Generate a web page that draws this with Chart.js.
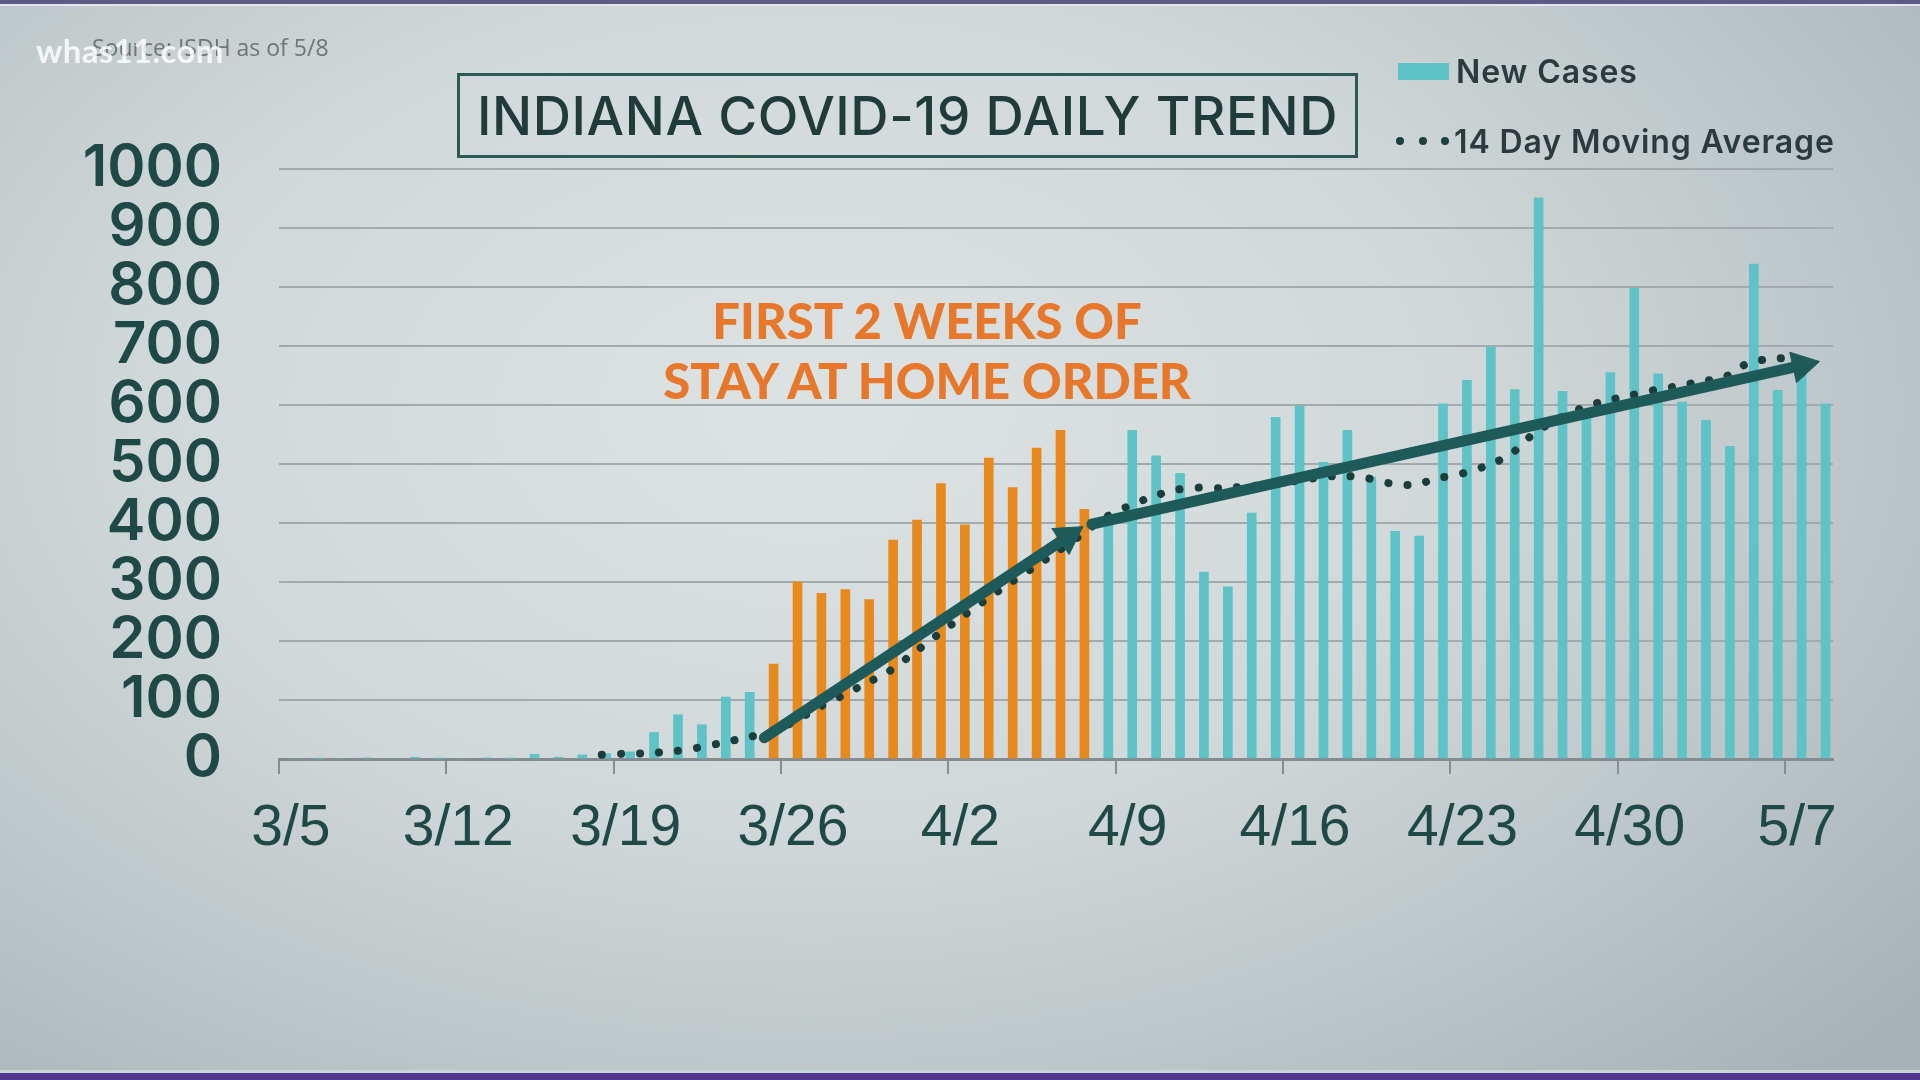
<!DOCTYPE html>
<html>
<head>
<meta charset="utf-8">
<script src="https://cdn.jsdelivr.net/npm/chart.js@4.4.1/dist/chart.umd.min.js"></script>
<style>
  html, body { margin: 0; padding: 0; width: 1920px; height: 1080px; overflow: hidden; }
  body {
    position: relative;
    background: radial-gradient(ellipse 75% 85% at 42% 38%, #dde3e3 0%, #d1d8d9 45%, #b4bec1 85%, #a9b3b7 100%);
    font-family: Inter, "Open Sans", sans-serif;
  }
  #chart { position: absolute; left: 0; top: 0; }
  .edge-top { position: absolute; left: 0; top: 0; width: 1920px; height: 4px; background: #5d5a86; border-bottom: 2px solid #e2e6ec; }
  .edge-bottom { position: absolute; left: 0; bottom: 0; width: 1920px; height: 7px; background: #51368f; border-top: 3px solid #c6d6d1; }
  .source { position: absolute; left: 92px; top: 31px; font: 400 23px "Open Sans", sans-serif; color: #6d7779; }
  .mark { position: absolute; left: 36px; top: 30px; font: 700 33px Lato, sans-serif; color: rgba(255,255,255,0.82); letter-spacing: 0.3px; }
  .title {
    position: absolute; left: 457px; top: 73px; width: 901px; height: 85px; box-sizing: border-box;
    border: 3px solid #2b5954; display: flex; align-items: center; justify-content: center;
    font: 500 53px Inter, sans-serif; color: #1f3c3a; letter-spacing: 0.6px;
  }
  .legend { position: absolute; left: 1396px; top: 50px; font: 600 32px Inter, sans-serif; color: #2b3b3d; letter-spacing: 0.9px; }
  .legend .row { position: absolute; left: 0; height: 40px; display: flex; align-items: center; white-space: nowrap; }
  .legend .swatch { display: inline-block; width: 51px; height: 17px; background: #5ec3c6; margin-right: 7px; margin-left: 2px; }
  .legend .dots { display: inline-flex; width: 53px; justify-content: space-between; margin-right: 5px; }
  .legend .dots i { display: block; width: 8px; height: 8px; border-radius: 50%; background: #1d3f3d; }
  .note { position: absolute; left: 477px; width: 900px; text-align: center; font: 900 49px Lato, sans-serif; color: #e7772a; white-space: nowrap; line-height: 59px; }
</style>
</head>
<body>
<canvas id="chart" width="1920" height="1080"></canvas>
<div class="edge-top"></div>
<div class="edge-bottom"></div>
<div class="source">Source: ISDH as of 5/8</div>
<div class="mark">whas11.com</div>
<div class="title">INDIANA COVID-19 DAILY TREND</div>
<div class="legend">
  <div class="row" style="top:1px"><span class="swatch"></span><span>New Cases</span></div>
  <div class="row" style="top:71px"><span class="dots"><i></i><i></i><i></i></span><span>14 Day Moving Average</span></div>
</div>
<div class="note" style="top:291px">FIRST 2 WEEKS OF</div>
<div class="note" style="top:351px">STAY AT HOME ORDER</div>
<script>
// days from 3/5 to 5/8
const dates = [
  "3/5", "3/6", "3/7", "3/8", "3/9", "3/10", "3/11", "3/12", "3/13", "3/14",
  "3/15", "3/16", "3/17", "3/18", "3/19", "3/20", "3/21", "3/22", "3/23", "3/24",
  "3/25", "3/26", "3/27", "3/28", "3/29", "3/30", "3/31", "4/1", "4/2", "4/3",
  "4/4", "4/5", "4/6", "4/7", "4/8", "4/9", "4/10", "4/11", "4/12", "4/13",
  "4/14", "4/15", "4/16", "4/17", "4/18", "4/19", "4/20", "4/21", "4/22", "4/23",
  "4/24", "4/25", "4/26", "4/27", "4/28", "4/29", "4/30", "5/1", "5/2", "5/3",
  "5/4", "5/5", "5/6", "5/7", "5/8"
];

const newCases = [
  0, 1, 0, 2, 0, 3, 1, 0, 2, 1,
  8, 3, 7, 9, 12, 45, 75, 58, 105, 113,
  161, 300, 281, 287, 270, 371, 405, 467, 397, 510,
  460, 527, 557, 423, 400, 557, 514, 484, 317, 292,
  417, 579, 598, 503, 557, 478, 386, 378, 602, 642,
  698, 626, 951, 623, 580, 655, 798, 653, 605, 574,
  530, 839, 625, 660, 602
];

const movingAverage = [
  null, null, null, null, null, null, null, null, null, null,
  null, null, null, 7, 9, 10, 13, 19, 27, 36,
  45, 62, 86, 106, 127, 148, 178, 209, 239, 268,
  296, 323, 350, 378, 408, 428, 444, 456, 460, 459,
  462, 466, 471, 477, 480, 476, 467, 465, 476, 484,
  497, 516, 552, 576, 595, 607, 616, 625, 632, 640,
  648, 672, 678, 681, null
];

// stay-at-home order weeks (3/25 - 4/7)
const orderStart = "3/25";
const orderEnd = "4/7";

// trend arrows, in day positions (0 = 3/5) and case counts
const trendBefore = [{ x: 19.8, y: 36 }, { x: 32.5, y: 377 }];
const trendAfter = [{ x: 33.5, y: 398 }, { x: 63.2, y: 667 }];

const cyan = "#5ec3c6";
const orange = "#e8891d";
const arrowColor = "#1f5a5a";
const dotColor = "#1b3d3b";
const tickGray = "#868e91";
const labelColor = "#1e4946";

const i0 = dates.indexOf(orderStart);
const i1 = dates.indexOf(orderEnd);
const barColors = newCases.map((v, i) => (i >= i0 && i <= i1 ? orange : cyan));

function arrowRotation(c) {
  const d = c.dataset.data;
  const xs = c.chart.scales.xl;
  const ys = c.chart.scales.y;
  const dx = xs.getPixelForValue(d[1].x) - xs.getPixelForValue(d[0].x);
  const dy = ys.getPixelForValue(d[1].y) - ys.getPixelForValue(d[0].y);
  return Math.atan2(dx, -dy) * 180 / Math.PI;
}

function arrowSet(points) {
  return {
    type: "line",
    data: points,
    xAxisID: "xl",
    borderColor: arrowColor,
    borderWidth: 11,
    borderCapStyle: "round",
    pointRadius: [0, 18],
    pointHoverRadius: [0, 18],
    pointStyle: "triangle",
    pointBackgroundColor: arrowColor,
    pointBorderColor: arrowColor,
    pointBorderWidth: 1,
    pointRotation: arrowRotation,
    order: 1
  };
}

new Chart(document.getElementById("chart"), {
  type: "bar",
  data: {
    labels: dates,
    datasets: [
      arrowSet(trendBefore),
      arrowSet(trendAfter),
      {
        type: "line",
        label: "14 Day Moving Average",
        data: movingAverage,
        borderColor: dotColor,
        borderWidth: 8,
        borderDash: [0.1, 19],
        borderCapStyle: "round",
        pointRadius: 0,
        tension: 0.3,
        order: 2
      },
      {
        label: "New Cases",
        data: newCases,
        backgroundColor: barColors,
        barThickness: 9,
        order: 3
      }
    ]
  },
  options: {
    responsive: false,
    animation: false,
    events: [],
    layout: { padding: { left: 0, right: 87, top: 169, bottom: 221 } },
    plugins: { legend: { display: false }, tooltip: { enabled: false } },
    scales: {
      x: {
        type: "category",
        offset: true,
        grid: {
          offset: true,
          drawOnChartArea: false,
          drawTicks: true,
          tickLength: 15,
          lineWidth: 2,
          color: (c) => (c.index % 7 === 0 ? tickGray : "rgba(0,0,0,0)")
        },
        border: { display: true, color: "#848c8f", width: 3 },
        ticks: {
          autoSkip: false,
          maxRotation: 0,
          minRotation: 0,
          padding: 21,
          color: labelColor,
          font: { family: "'Liberation Sans Narrow', 'Liberation Sans', sans-serif", size: 57, weight: "400" },
          callback: (v, i) => (i % 7 === 0 ? dates[i] : "")
        },
        afterFit: (s) => { s.height = 100; }
      },
      xl: { type: "linear", display: false, offset: false, grid: { offset: false }, min: -0.5, max: 64.5 },
      y: {
        min: 0,
        max: 1000,
        ticks: {
          stepSize: 100,
          autoSkip: false,
          padding: 57,
          color: labelColor,
          font: { family: "Inter", size: 58, weight: "600" },
          callback: (v) => String(v)
        },
        grid: { color: "#a3aaad", lineWidth: 2, drawTicks: false },
        border: { display: false },
        afterFit: (s) => { s.width = 279; }
      }
    }
  }
});
</script>
</body>
</html>
